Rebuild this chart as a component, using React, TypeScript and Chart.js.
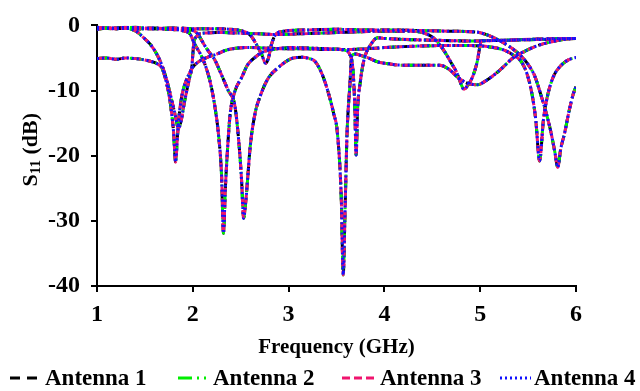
import React, { useEffect, useRef } from 'react';
import { Chart, registerables } from 'chart.js';

Chart.register(...registerables);

// ---- data ----
const xTickValues = [1, 2, 3, 4, 5, 6];
const yTickValues = [0, -10, -20, -30, -40];
const antennaNames = ['Antenna 1', 'Antenna 2', 'Antenna 3', 'Antenna 4'];

// state A: -5 dB start, dip at 1.82 GHz and 5.62 GHz
const aFreq = [1.0, 1.1, 1.2, 1.3, 1.4, 1.5, 1.58, 1.64, 1.68, 1.72, 1.75, 1.78, 1.8, 1.82, 1.84, 1.86, 1.89, 1.93, 1.97, 2.0, 2.08, 2.17, 2.25, 2.35, 2.45, 2.6, 2.8, 3.0, 3.2, 3.4, 3.6, 3.8, 4.0, 4.3, 4.6, 4.9, 5.1, 5.25, 5.35, 5.43, 5.49, 5.54, 5.58, 5.62, 5.66, 5.7, 5.76, 5.84, 5.92, 6.0];
const aS11 = [-5.1, -5.0, -5.2, -5.0, -5.1, -5.3, -5.6, -6.0, -6.6, -8.5, -10.5, -13.6, -16.5, -21.0, -17.0, -13.5, -10.5, -8.5, -7.2, -6.4, -5.4, -4.8, -4.4, -3.8, -3.5, -3.4, -3.5, -3.6, -3.6, -3.7, -3.7, -3.6, -3.4, -3.2, -3.1, -3.1, -3.3, -3.8, -4.6, -5.6, -7.5, -10.5, -14.5, -20.8, -14.5, -11.0, -8.0, -6.2, -5.3, -4.9];

// state B: dip at 1.86 GHz and 4.83 GHz
const bFreq = [1.0, 1.1, 1.2, 1.3, 1.36, 1.42, 1.48, 1.55, 1.62, 1.68, 1.73, 1.78, 1.82, 1.85, 1.88, 1.91, 1.94, 1.97, 1.99, 2.0, 2.01, 2.04, 2.1, 2.3, 2.5, 2.7, 2.9, 3.1, 3.3, 3.5, 3.7, 3.9, 4.1, 4.3, 4.42, 4.51, 4.58, 4.64, 4.7, 4.76, 4.8, 4.83, 4.87, 4.92, 4.97, 4.99, 5.01, 5.05, 5.2, 5.4, 5.6, 5.8, 6.0];
const bS11 = [-0.6, -0.4, -0.5, -0.4, -0.6, -1.0, -1.8, -2.8, -4.3, -6.2, -8.5, -11.5, -14.0, -15.8, -14.5, -12.0, -9.8, -7.8, -6.4, -4.5, -2.8, -1.7, -1.2, -1.1, -1.2, -1.3, -1.4, -1.3, -1.2, -1.1, -1.0, -0.9, -0.9, -0.9, -1.2, -1.9, -3.0, -4.3, -5.8, -7.4, -9.0, -9.8, -9.2, -7.9, -5.5, -3.8, -2.5, -2.3, -2.3, -2.2, -2.1, -2.0, -2.0];

// state C: dip at 2.32 GHz and 3.70 GHz
const cFreq = [1.0, 1.15, 1.3, 1.45, 1.6, 1.75, 1.85, 1.92, 1.97, 2.02, 2.08, 2.13, 2.18, 2.23, 2.27, 2.3, 2.32, 2.34, 2.36, 2.39, 2.44, 2.51, 2.57, 2.65, 2.73, 2.88, 3.05, 3.25, 3.45, 3.58, 3.64, 3.67, 3.69, 3.705, 3.72, 3.75, 3.77, 3.8, 3.85, 3.93, 4.0, 4.3, 4.6, 4.9, 5.2, 5.5, 5.8, 6.0];
const cS11 = [-0.4, -0.5, -0.3, -0.5, -0.4, -0.6, -0.7, -0.9, -1.3, -2.9, -4.4, -6.1, -8.6, -12.4, -17.0, -23.0, -31.9, -25.0, -19.6, -13.6, -10.1, -8.0, -6.1, -4.9, -4.1, -3.6, -3.4, -3.5, -3.6, -3.8, -4.5, -6.5, -12.0, -19.9, -13.0, -8.5, -6.5, -4.6, -3.1, -1.9, -2.0, -2.2, -2.3, -2.4, -2.3, -2.2, -2.1, -2.0];

// state D: dip at 2.53 GHz, 3.57 GHz and 4.97 GHz
const dFreq = [1.0, 1.2, 1.4, 1.6, 1.8, 1.95, 2.02, 2.06, 2.12, 2.18, 2.23, 2.3, 2.37, 2.44, 2.49, 2.51, 2.53, 2.55, 2.57, 2.6, 2.65, 2.7, 2.78, 2.89, 3.05, 3.14, 3.22, 3.28, 3.35, 3.41, 3.47, 3.51, 3.55, 3.57, 3.59, 3.61, 3.64, 3.66, 3.7, 3.75, 3.85, 3.93, 4.05, 4.17, 4.35, 4.58, 4.68, 4.76, 4.87, 4.97, 5.08, 5.21, 5.35, 5.49, 5.6, 5.75, 5.9, 6.0];
const dS11 = [-0.5, -0.4, -0.5, -0.5, -0.6, -0.7, -0.9, -1.5, -3.0, -4.3, -5.3, -7.6, -10.0, -12.4, -19.6, -24.0, -29.6, -27.5, -24.0, -18.5, -13.5, -11.0, -8.3, -6.5, -5.0, -4.9, -5.1, -5.6, -7.5, -10.1, -13.5, -16.6, -26.6, -38.3, -28.0, -16.6, -9.1, -4.6, -4.4, -4.6, -5.1, -5.6, -5.9, -6.1, -6.1, -6.1, -6.8, -7.9, -8.9, -9.1, -8.3, -6.8, -4.9, -3.8, -3.1, -2.5, -2.1, -2.0];

// state E: dip at 2.77 GHz and 5.81 GHz
const eFreq = [1.0, 1.2, 1.4, 1.6, 1.8, 2.0, 2.2, 2.4, 2.5, 2.6, 2.66, 2.72, 2.76, 2.79, 2.82, 2.86, 2.95, 3.2, 3.5, 3.8, 4.1, 4.4, 4.7, 4.95, 5.08, 5.2, 5.32, 5.42, 5.5, 5.57, 5.63, 5.69, 5.74, 5.78, 5.81, 5.84, 5.88, 5.93, 5.97, 6.0];
const eS11 = [-0.3, -0.5, -0.3, -0.5, -0.4, -0.5, -0.5, -0.6, -0.8, -1.5, -2.8, -4.5, -5.8, -5.0, -3.0, -1.5, -0.9, -0.7, -0.6, -0.7, -0.7, -0.8, -0.9, -1.0, -1.5, -2.3, -3.4, -4.6, -6.0, -7.8, -10.5, -13.5, -16.5, -19.5, -21.8, -19.0, -16.6, -13.0, -10.6, -9.4];

const stateFreqs = [aFreq, bFreq, cFreq, dFreq, eFreq];
const stateS11 = [aS11, bS11, cS11, dS11, eS11];

// ---- styles ----
const antennaColors = ['#000000', '#00ee00', '#f0146e', '#1010ff'];
const antennaDashes = [[10, 7], [14, 5, 2, 5, 2, 5], [8, 4], [2, 3]];
const antennaWidths = [3, 3, 3, 3];
const FONT_FAMILY = '"Liberation Serif", "Times New Roman", serif';

const yTitlePlugin = {
  id: 'yTitle',
  afterDraw(chart: any) {
    const ctx = chart.ctx;
    const cy = (chart.chartArea.top + chart.chartArea.bottom) / 2 - 6;
    ctx.save();
    ctx.translate(31, cy);
    ctx.rotate(-Math.PI / 2);
    ctx.fillStyle = '#000';
    ctx.textBaseline = 'middle';
    ctx.font = `bold 22px ${FONT_FAMILY}`;
    const s = 'S';
    const sub = '11';
    const rest = ' (dB)';
    const wS = ctx.measureText(s).width;
    const wRest = ctx.measureText(rest).width;
    ctx.font = `bold 15px ${FONT_FAMILY}`;
    const wSub = ctx.measureText(sub).width;
    const total = wS + wSub + wRest;
    let x = -total / 2;
    ctx.textAlign = 'left';
    ctx.font = `bold 22px ${FONT_FAMILY}`;
    ctx.fillText(s, x, 0);
    x += wS;
    ctx.font = `bold 15px ${FONT_FAMILY}`;
    ctx.fillText(sub, x, 5);
    x += wSub;
    ctx.font = `bold 22px ${FONT_FAMILY}`;
    ctx.fillText(rest, x, 0);
    ctx.restore();
  },
};

const legendLayout = [
  { x0: 10, x1: 38, tx: 45 },
  { x0: 178, x1: 210, tx: 213 },
  { x0: 342, x1: 376, tx: 380 },
  { x0: 500, x1: 531, tx: 534 },
];

const legendPlugin = {
  id: 'customLegend',
  afterDraw(chart: any) {
    const ctx = chart.ctx;
    const y = 378;
    ctx.save();
    antennaNames.forEach((name, i) => {
      const L = legendLayout[i];
      ctx.beginPath();
      ctx.setLineDash(antennaDashes[i]);
      ctx.lineWidth = 3;
      ctx.strokeStyle = antennaColors[i];
      ctx.moveTo(L.x0, y);
      ctx.lineTo(L.x1, y);
      ctx.stroke();
      ctx.setLineDash([]);
      ctx.fillStyle = '#000';
      ctx.font = `bold 23px ${FONT_FAMILY}`;
      ctx.textAlign = 'left';
      ctx.textBaseline = 'middle';
      ctx.fillText(name, L.tx, y + 1);
    });
    ctx.restore();
  },
};

export default function App() {
  const canvasRef = useRef<HTMLCanvasElement | null>(null);

  useEffect(() => {
    document.body.style.margin = '0';
    const canvas = canvasRef.current;
    if (!canvas) return;

    const datasets: any[] = [];
    antennaNames.forEach((name, a) => {
      stateFreqs.forEach((freqs, s) => {
        datasets.push({
          label: name,
          data: freqs.map((f, i) => ({ x: f, y: stateS11[s][i] })),
          borderColor: antennaColors[a],
          backgroundColor: antennaColors[a],
          borderDash: antennaDashes[a],
          borderWidth: antennaWidths[a],
          pointRadius: 0,
          fill: false,
          cubicInterpolationMode: 'monotone',
          order: 3 - a,
        });
      });
    });

    const chart = new Chart(canvas, {
      type: 'line',
      data: { datasets },
      plugins: [yTitlePlugin, legendPlugin],
      options: {
        animation: false,
        responsive: false,
        devicePixelRatio: 1,
        layout: { padding: { left: 0, right: 64, top: 19, bottom: 0 } },
        plugins: {
          legend: { display: false },
          tooltip: { enabled: false },
        },
        scales: {
          x: {
            type: 'linear',
            min: 1,
            max: 6,
            afterBuildTicks: (scale: any) => {
              scale.ticks = xTickValues.map((v) => ({ value: v }));
            },
            afterFit: (scale: any) => {
              scale.height = 105;
            },
            ticks: {
              color: '#000',
              padding: 8,
              font: { family: FONT_FAMILY, size: 24, weight: 'bold' },
            },
            grid: {
              drawOnChartArea: false,
              drawTicks: true,
              tickLength: 6,
              color: '#000',
              lineWidth: 2,
            },
            border: { display: true, color: '#000', width: 2 },
            title: {
              display: true,
              text: 'Frequency (GHz)',
              color: '#000',
              font: { family: FONT_FAMILY, size: 21, weight: 'bold' },
              padding: { top: 0, bottom: 31 },
            },
          },
          y: {
            type: 'linear',
            min: -40,
            max: 0,
            afterBuildTicks: (scale: any) => {
              scale.ticks = yTickValues.map((v) => ({ value: v }));
            },
            afterFit: (scale: any) => {
              scale.width = 97;
            },
            ticks: {
              color: '#000',
              padding: 11,
              font: { family: FONT_FAMILY, size: 24, weight: 'bold' },
            },
            grid: {
              drawOnChartArea: false,
              drawTicks: true,
              tickLength: 6,
              color: '#000',
              lineWidth: 2,
            },
            border: { display: true, color: '#000', width: 2 },
          },
        },
      },
    });

    return () => {
      chart.destroy();
    };
  }, []);

  return (
    <div style={{ width: 640, height: 391, position: 'relative' }}>
      <canvas ref={canvasRef} width={640} height={391} style={{ display: 'block', width: 640, height: 391 }} />
    </div>
  );
}
